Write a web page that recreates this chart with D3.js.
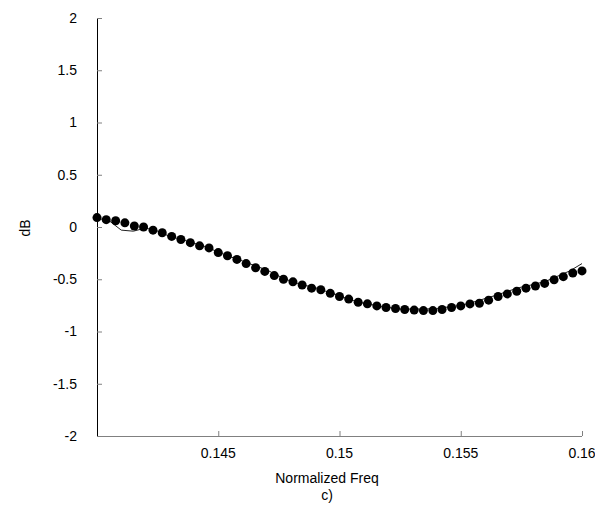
<!DOCTYPE html>
<html>
<head>
<meta charset="utf-8">
<script src="https://cdn.jsdelivr.net/npm/d3@7"></script>
<style>
  html, body { margin: 0; padding: 0; background: #fff; }
  svg { display: block; }
  text { font-family: "Liberation Sans", Arial, sans-serif; fill: #000; }
</style>
</head>
<body>
<svg id="chart" width="595" height="506"></svg>
<script>
// Measured response (markers), normalized frequency vs. dB
const markerFreq = [
  0.14000, 0.14038, 0.14077, 0.14115, 0.14154, 0.14192, 0.14231, 0.14269, 0.14308, 0.14346,
  0.14385, 0.14423, 0.14462, 0.14500, 0.14538, 0.14577, 0.14615, 0.14654, 0.14692, 0.14731,
  0.14769, 0.14808, 0.14846, 0.14885, 0.14923, 0.14962, 0.15000, 0.15038, 0.15077, 0.15115,
  0.15154, 0.15192, 0.15231, 0.15269, 0.15308, 0.15346, 0.15385, 0.15423, 0.15462, 0.15500,
  0.15538, 0.15577, 0.15615, 0.15654, 0.15692, 0.15731, 0.15769, 0.15808, 0.15846, 0.15885,
  0.15923, 0.15962, 0.16000
];
const markerDb = [
  0.09, 0.07, 0.06, 0.04, 0.01, 0.00, -0.03, -0.055, -0.09, -0.12,
  -0.15, -0.18, -0.20, -0.245, -0.275, -0.31, -0.35, -0.39, -0.425, -0.465,
  -0.50, -0.525, -0.555, -0.585, -0.60, -0.635, -0.665, -0.69, -0.72, -0.735,
  -0.755, -0.77, -0.78, -0.79, -0.795, -0.80, -0.80, -0.79, -0.77, -0.755,
  -0.736, -0.73, -0.70, -0.665, -0.64, -0.615, -0.585, -0.565, -0.54, -0.505,
  -0.475, -0.44, -0.42
];

// Reference response (thin line)
const lineFreq = [
  0.1400, 0.1405, 0.1410, 0.1415, 0.1420, 0.1425, 0.1430, 0.1435, 0.1440, 0.1445,
  0.1450, 0.1455, 0.1460, 0.1465, 0.1470, 0.1475, 0.1480, 0.1485, 0.1490, 0.1495,
  0.1500, 0.1505, 0.1510, 0.1515, 0.1520, 0.1525, 0.1530, 0.1535, 0.1540, 0.1545,
  0.1550, 0.1555, 0.1560, 0.1565, 0.1570, 0.1575, 0.1580, 0.1585, 0.1590, 0.1595,
  0.1600
];
const lineDb = [
  0.085, 0.06, -0.03, -0.04, -0.01, -0.04, -0.09, -0.12, -0.155, -0.19,
  -0.24, -0.285, -0.325, -0.37, -0.41, -0.47, -0.52, -0.555, -0.58, -0.62,
  -0.66, -0.70, -0.73, -0.75, -0.77, -0.785, -0.785, -0.785, -0.78, -0.765,
  -0.75, -0.72, -0.685, -0.65, -0.61, -0.575, -0.55, -0.52, -0.47, -0.42,
  -0.35
];

const xTicks = [0.145, 0.15, 0.155, 0.16];
const yTicks = [-2, -1.5, -1, -0.5, 0, 0.5, 1, 1.5, 2];

const svg = d3.select("#chart");
const plotLeft = 97, plotRight = 582, plotTop = 18, plotBottom = 436;

const x = d3.scaleLinear().domain([0.14, 0.16]).range([plotLeft, plotRight]);
const y = d3.scaleLinear().domain([-2, 2]).range([plotBottom, plotTop]);

// Plain hyphen-minus labels
const fmt = d => String(d);

// Y axis: ticks point inward
const yAxis = svg.append("g")
  .attr("transform", `translate(${plotLeft},0)`)
  .call(d3.axisRight(y).tickValues(yTicks).tickSize(5).tickFormat(""));
yAxis.select(".domain").attr("stroke", "#000").attr("d", `M0.5,${plotTop}V${plotBottom}`);
yAxis.selectAll(".tick line").attr("stroke", "#808080");

svg.append("g").selectAll("text")
  .data(yTicks)
  .join("text")
  .attr("x", 77)
  .attr("y", d => y(d))
  .attr("dy", "0.35em")
  .attr("text-anchor", "end")
  .attr("font-size", 14)
  .text(fmt);

// X axis: ticks point inward (upward)
const xAxis = svg.append("g")
  .attr("transform", `translate(0,${plotBottom})`)
  .call(d3.axisTop(x).tickValues(xTicks).tickSize(5).tickFormat(""));
xAxis.select(".domain").attr("stroke", "#808080").attr("d", `M${plotLeft},0.5H${plotRight}`);
xAxis.selectAll(".tick line").attr("stroke", "#808080");

svg.append("g").selectAll("text")
  .data(xTicks)
  .join("text")
  .attr("x", d => x(d))
  .attr("y", 458)
  .attr("text-anchor", "middle")
  .attr("font-size", 14)
  .text(fmt);

// Axis titles
svg.append("text")
  .attr("x", 327).attr("y", 483)
  .attr("text-anchor", "middle").attr("font-size", 14)
  .text("Normalized Freq");
svg.append("text")
  .attr("x", 327).attr("y", 500)
  .attr("text-anchor", "middle").attr("font-size", 14)
  .text("c)");
svg.append("text")
  .attr("transform", "translate(30,228) rotate(-90)")
  .attr("text-anchor", "middle").attr("font-size", 14)
  .text("dB");

// Thin reference line
const lineData = lineFreq.map((f, i) => [f, lineDb[i]]);
svg.append("path")
  .datum(lineData)
  .attr("fill", "none")
  .attr("stroke", "#222")
  .attr("stroke-width", 1)
  .attr("d", d3.line().x(d => x(d[0])).y(d => y(d[1])));

// Markers
const markerData = markerFreq.map((f, i) => [f, markerDb[i]]);
svg.append("g").selectAll("circle")
  .data(markerData)
  .join("circle")
  .attr("cx", d => x(d[0]))
  .attr("cy", d => y(d[1]))
  .attr("r", 4.5)
  .attr("fill", "#000");
</script>
</body>
</html>
